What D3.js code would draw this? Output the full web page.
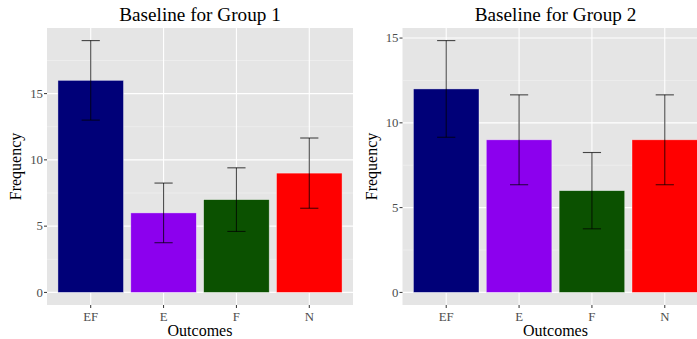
<!DOCTYPE html>
<html>
<head>
<meta charset="utf-8">
<script src="https://cdn.jsdelivr.net/npm/d3@7"></script>
<style>
  body { margin: 0; background: #fff; }
  svg { display: block; font-family: "Liberation Serif", "Times New Roman", serif; }
</style>
</head>
<body>
<svg id="chart" width="697" height="339"></svg>
<script>
// Data
const categories = ['EF', 'E', 'F', 'N'];
const barColors = ['#000078', '#8c00ee', '#0b5100', '#ff0000'];

const group1Values = [16, 6, 7, 9];
const group1Lower = [13, 3.75, 4.6, 6.35];
const group1Upper = [19, 8.25, 9.4, 11.65];

const group2Values = [12, 9, 6, 9];
const group2Lower = [9.15, 6.35, 3.75, 6.35];
const group2Upper = [14.85, 11.65, 8.25, 11.65];

const yTicks = [0, 5, 10, 15];

(function() {
    const svg = d3.select('#chart');
    const panelTop = 28;
    const panelBottom = 305;

    function drawPanel(title, values, lower, upper, left, right) {
        const g = svg.append('g');

        // ggplot-like 5% expansion of the continuous axis
        const maxV = d3.max(upper);
        const pad = maxV * 0.05;
        const y = d3.scaleLinear()
            .domain([-pad, maxV + pad])
            .range([panelBottom, panelTop]);

        const x = d3.scaleBand()
            .domain(categories)
            .range([left, right])
            .paddingInner(0.1)
            .paddingOuter(0.15);

        // Panel background
        g.append('rect')
            .attr('x', left)
            .attr('y', panelTop)
            .attr('width', right - left)
            .attr('height', panelBottom - panelTop)
            .attr('fill', '#e5e5e5');

        // Minor grid
        const minor = d3.range(2.5, maxV + pad, 5);
        g.selectAll('.minor')
            .data(minor)
            .enter()
            .append('line')
            .attr('x1', left)
            .attr('x2', right)
            .attr('y1', d => y(d))
            .attr('y2', d => y(d))
            .attr('stroke', '#f2f2f2')
            .attr('stroke-width', 0.6);

        // Major grid
        g.selectAll('.major')
            .data(yTicks.filter(t => y(t) >= panelTop))
            .enter()
            .append('line')
            .attr('x1', left)
            .attr('x2', right)
            .attr('y1', d => y(d))
            .attr('y2', d => y(d))
            .attr('stroke', '#ffffff')
            .attr('stroke-width', 1.1);

        g.selectAll('.vgrid')
            .data(categories)
            .enter()
            .append('line')
            .attr('x1', d => x(d) + x.bandwidth() / 2)
            .attr('x2', d => x(d) + x.bandwidth() / 2)
            .attr('y1', panelTop)
            .attr('y2', panelBottom)
            .attr('stroke', '#ffffff')
            .attr('stroke-width', 1.1);

        // Bars
        g.selectAll('.bar')
            .data(values)
            .enter()
            .append('rect')
            .attr('x', (d, i) => x(categories[i]))
            .attr('y', d => y(d))
            .attr('width', x.bandwidth())
            .attr('height', d => y(0) - y(d))
            .attr('fill', (d, i) => barColors[i])
            .attr('stroke', 'rgba(255,255,255,0.55)')
            .attr('stroke-width', 0.7);

        // Error bars
        const capHalf = x.step() * 0.125;
        const err = g.append('g')
            .attr('stroke', '#000')
            .attr('stroke-opacity', 0.7)
            .attr('stroke-width', 1.1);

        categories.forEach((c, i) => {
            const cx = x(c) + x.bandwidth() / 2;
            err.append('line')
                .attr('x1', cx).attr('x2', cx)
                .attr('y1', y(lower[i])).attr('y2', y(upper[i]));
            [lower[i], upper[i]].forEach(v => {
                err.append('line')
                    .attr('x1', cx - capHalf).attr('x2', cx + capHalf)
                    .attr('y1', y(v)).attr('y2', y(v));
            });
        });

        // Y axis ticks and labels
        const yt = yTicks.filter(t => y(t) >= panelTop);
        g.selectAll('.ytick')
            .data(yt)
            .enter()
            .append('line')
            .attr('x1', left - 3)
            .attr('x2', left)
            .attr('y1', d => y(d))
            .attr('y2', d => y(d))
            .attr('stroke', '#333')
            .attr('stroke-width', 1);

        g.selectAll('.ylab')
            .data(yt)
            .enter()
            .append('text')
            .attr('x', left - 4)
            .attr('y', d => y(d))
            .attr('dy', '0.34em')
            .attr('text-anchor', 'end')
            .attr('font-size', '12.8px')
            .attr('fill', '#4d4d4d')
            .text(d => d);

        // X axis ticks and labels
        g.selectAll('.xtick')
            .data(categories)
            .enter()
            .append('line')
            .attr('x1', d => x(d) + x.bandwidth() / 2)
            .attr('x2', d => x(d) + x.bandwidth() / 2)
            .attr('y1', panelBottom)
            .attr('y2', panelBottom + 3)
            .attr('stroke', '#333')
            .attr('stroke-width', 1);

        g.selectAll('.xlab')
            .data(categories)
            .enter()
            .append('text')
            .attr('x', d => x(d) + x.bandwidth() / 2)
            .attr('y', 320.5)
            .attr('text-anchor', 'middle')
            .attr('font-size', '12.8px')
            .attr('fill', '#4d4d4d')
            .text(d => d);

        // Axis titles
        g.append('text')
            .attr('x', (left + right) / 2)
            .attr('y', 335.5)
            .attr('text-anchor', 'middle')
            .attr('font-size', '16px')
            .attr('fill', '#000')
            .text('Outcomes');

        g.append('text')
            .attr('transform', `translate(${left - 26},${(panelTop + panelBottom) / 2}) rotate(-90)`)
            .attr('text-anchor', 'middle')
            .attr('font-size', '16px')
            .attr('fill', '#000')
            .text('Frequency');

        // Title
        g.append('text')
            .attr('x', (left + right) / 2)
            .attr('y', 21)
            .attr('text-anchor', 'middle')
            .attr('font-size', '19.2px')
            .attr('fill', '#000')
            .text(title);
    }

    drawPanel('Baseline for Group 1', group1Values, group1Lower, group1Upper, 47, 353);
    drawPanel('Baseline for Group 2', group2Values, group2Lower, group2Upper, 402.5, 708.5);
})();
</script>
</body>
</html>
